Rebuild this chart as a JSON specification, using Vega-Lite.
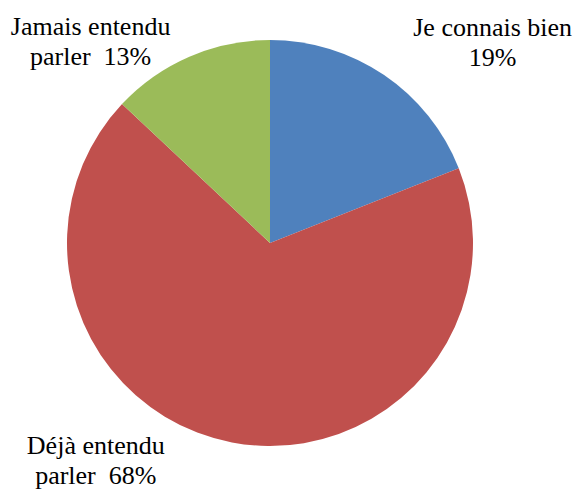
{
  "$schema": "https://vega.github.io/schema/vega-lite/v6.json",
  "width": 540,
  "height": 486,
  "padding": {"left": 0, "top": 0, "right": 39, "bottom": 6},
  "autosize": {"type": "none"},
  "background": "white",
  "config": {"view": {"stroke": null}, "text": {"font": "Liberation Serif"}},
  "data": {
    "values": [
      {"category": "Je connais bien", "value": 19, "rank": 1, "label": "Je connais bien\n19%"},
      {"category": "Déjà entendu parler", "value": 68, "rank": 2, "label": "Déjà entendu\nparler\u00a0 68%"},
      {"category": "Jamais entendu parler", "value": 13, "rank": 3, "label": "Jamais entendu\nparler\u00a0 13%"}
    ]
  },
  "encoding": {
    "theta": {"field": "value", "type": "quantitative", "stack": true},
    "order": {"field": "rank", "type": "quantitative"}
  },
  "layer": [
    {
      "mark": {"type": "arc", "radius": 203},
      "encoding": {
        "color": {
          "field": "category",
          "type": "nominal",
          "scale": {
            "domain": ["Je connais bien", "Déjà entendu parler", "Jamais entendu parler"],
            "range": ["#4F81BD", "#C0504D", "#9BBB59"]
          },
          "legend": null
        }
      }
    },
    {
      "mark": {"type": "text", "radius": 220, "dx": 99, "dy": -33, "font": "Liberation Serif", "fontSize": 26, "lineBreak": "\n", "lineHeight": 30, "align": "center", "baseline": "middle", "color": "black"},
      "encoding": {"text": {"condition": {"test": "datum.rank == 1", "field": "label"}, "value": ""}}
    },
    {
      "mark": {"type": "text", "radius": 220, "dx": -133, "dy": -13, "font": "Liberation Serif", "fontSize": 26, "lineBreak": "\n", "lineHeight": 30, "align": "center", "baseline": "middle", "color": "black"},
      "encoding": {"text": {"condition": {"test": "datum.rank == 2", "field": "label"}, "value": ""}}
    },
    {
      "mark": {"type": "text", "radius": 220, "dx": -92, "dy": -14, "font": "Liberation Serif", "fontSize": 26, "lineBreak": "\n", "lineHeight": 30, "align": "center", "baseline": "middle", "color": "black"},
      "encoding": {"text": {"condition": {"test": "datum.rank == 3", "field": "label"}, "value": ""}}
    }
  ]
}
